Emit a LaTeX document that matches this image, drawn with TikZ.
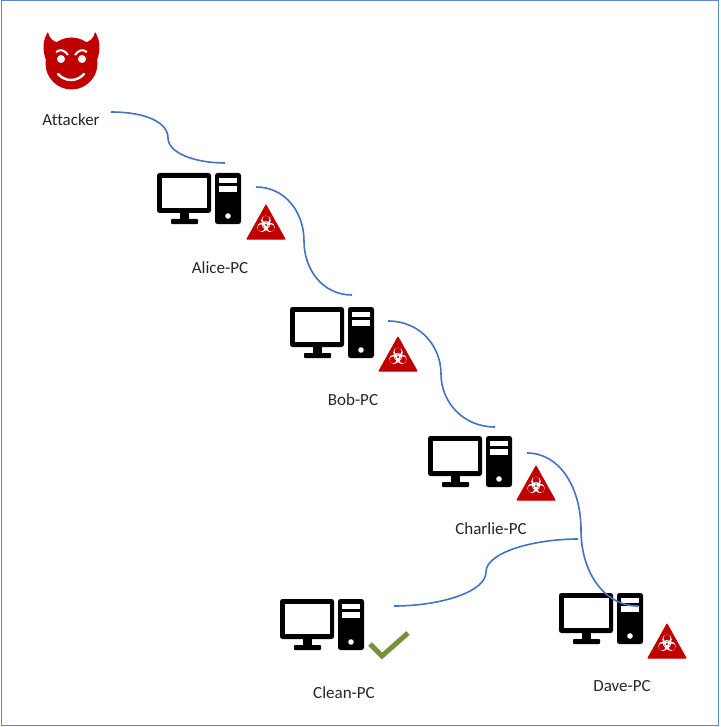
\documentclass[tikz,border=0pt]{standalone}
\usepackage{fontspec}
\setmainfont[Ligatures={NoCommon,NoRequired,NoContextual}]{Carlito}
\definecolor{linkblue}{HTML}{4472C4}
\definecolor{framblue}{HTML}{5B87D0}
\definecolor{hazred}{HTML}{C00000}
\definecolor{okgreen}{HTML}{76923C}
\definecolor{labelgray}{HTML}{262626}
\tikzset{
  x=1pt,y=-1pt,
  link/.style={draw=linkblue,line width=1.6pt},
  pclabel/.style={font=\fontsize{17}{20}\selectfont,text=labelgray,inner sep=0pt},
  computer/.pic={
    \fill[black,rounded corners=2.5pt] (0,0) rectangle (54,40);
    \fill[white] (5,5) rectangle (50,35);
    \fill[black] (23,40) rectangle (32,46);
    \fill[black,rounded corners=0.8pt] (14,46) rectangle (41,51);
    \fill[black,rounded corners=2.5pt] (58,0) rectangle (84,51);
    \fill[white] (62,5) rectangle (80,10);
    \fill[white] (62,13) rectangle (80,19);
    \fill[white] (71,43) circle (2.8);
  },
  hazard/.pic={
    \fill[hazred,draw=hazred,line width=1pt,line join=round] (0,1) -- (19,35) -- (-19,35) -- cycle;
    \begin{scope}[shift={(0,21)}]
      \draw[white,line width=0.8pt] (0,0) circle (3.6);
      \foreach \a in {270,30,150}{
        \fill[white,even odd rule] (\a:4.6) circle (4.8) (\a:5.8) circle (3.6);
      }
      \fill[hazred] (0,0) circle (1.2);
    \end{scope}
  },
}
\begin{document}
\begin{tikzpicture}
\useasboundingbox (0,0) rectangle (720,727);
\draw[framblue,line width=1pt] (1,1) rectangle (718.5,725.5);

% attacker icon
\fill[hazred] (71.5,63.5) circle (26);
\fill[hazred] (46,60) .. controls (42,50) and (43,39) .. (48,32) .. controls (49,38) and (53,42) .. (60,43) -- cycle;
\fill[hazred] (97,60) .. controls (101,50) and (100,39) .. (95,32) .. controls (94,38) and (90,42) .. (83,43) -- cycle;
\fill[white] (61,59) circle (4) (82,59) circle (4);
\draw[white,line width=2pt] (56,52) .. controls (60,49) and (65,50) .. (68,55);
\draw[white,line width=2pt] (87,52) .. controls (83,49) and (78,50) .. (75,55);
\draw[white,line width=2.4pt,line cap=round] (58,74) .. controls (65,82) and (77,82) .. (84,74);

% computers
\pic at (157,173) {computer};
\pic at (290,307) {computer};
\pic at (428,436) {computer};
\pic at (280,599) {computer};
\pic at (559,593) {computer};

% hazard marks
\pic at (266,204) {hazard};
\pic at (398,336) {hazard};
\pic at (536,465) {hazard};
\pic at (667,623) {hazard};

% clean mark
\draw[okgreen,line width=5pt] (370,644) -- (382,656) -- (408,633);

% labels
\node[pclabel] (attacker) at (71,120) {Attacker};
\node[pclabel] (alice) at (220,268) {Alice-PC};
\node[pclabel] (bob) at (353,400) {Bob-PC};
\node[pclabel] (charlie) at (491,529) {Charlie-PC};
\node[pclabel] (clean) at (344,693) {Clean-PC};
\node[pclabel] (dave) at (622,686) {Dave-PC};

% ports
\coordinate (attackerOut) at (111,112);
\coordinate (aliceIn) at (225,163);
\coordinate (aliceOut) at (256,187);
\coordinate (bobIn) at (352,295);
\coordinate (bobOut) at (388,321);
\coordinate (charlieIn) at (495,427);
\coordinate (charlieOut) at (527,453);
\coordinate (daveIn) at (638,606);
\coordinate (fork) at (578,539);
\coordinate (cleanIn) at (394,606);

% links
\draw[link] (attackerOut) .. controls (145,112) and (168,122) .. (168,138)
  .. controls (168,153) and (195,163) .. (aliceIn);
\draw[link] (aliceOut) .. controls (285,187) and (304,212) .. (304,241)
  .. controls (304,270) and (323,295) .. (bobIn);
\draw[link] (bobOut) .. controls (420,321) and (441,346) .. (441,374)
  .. controls (441,402) and (463,427) .. (charlieIn);
\draw[link] (charlieOut) .. controls (560,453) and (581,488) .. (581,530)
  .. controls (581,572) and (604,606) .. (daveIn);
\draw[link] (fork) .. controls (535,539) and (486,552) .. (486,572)
  .. controls (486,592) and (440,606) .. (cleanIn);
\end{tikzpicture}
\end{document}
